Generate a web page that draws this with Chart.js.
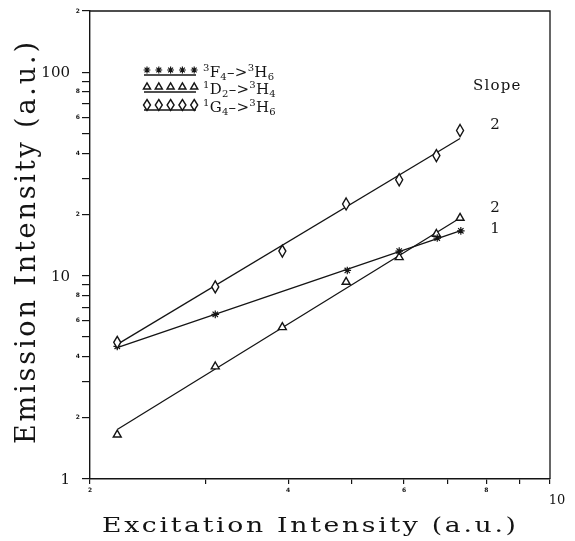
<!DOCTYPE html>
<html>
<head>
<meta charset="utf-8">
<script src="https://cdn.jsdelivr.net/npm/chart.js@4/dist/chart.umd.min.js"></script>
<style>
  html, body { margin: 0; padding: 0; background: #fff; }
  #wrap { width: 575px; height: 541px; }
</style>
</head>
<body>
<div id="wrap"><canvas id="c" width="575" height="541"></canvas></div>
<script>
// Measured points (excitation vs. emission, arbitrary units)
const excitation   = [2.2, 3.1, 3.92, 4.9, 5.9, 6.72, 7.3];
const starExcitation = [2.2, 3.1, 4.92, 5.9, 6.74, 7.32];
const emissionF4 = [4.49, 6.45, 10.6, 13.2, 15.3, 16.6];          // 3F4 -> 3H6
const emissionD2 = [1.65, 3.57, 5.57, 9.3, 12.3, 16.0, 19.2];     // 1D2 -> 3H4
const emissionG4 = [4.7, 8.8, 13.2, 22.5, 29.6, 38.9, 51.7];      // 1G4 -> 3H6

// Fitted straight lines (log-log), end points
const fitRange = [2.2, 7.3];
const fitF4 = [4.43, 16.6];
const fitD2 = [1.75, 19.2];
const fitG4 = [4.59, 47.2];

const seriesNames = ['³F₄–>³H₆', '¹D₂–>³H₄', '¹G₄–>³H₆'];
const slopeValues = ['1', '2', '2'];   // F4, D2, G4

const xTickValues = [2, 3, 4, 5, 6, 7, 8, 9, 10];
const yTickValues = [1, 2, 3, 4, 5, 6, 7, 8, 9, 10, 20, 30, 40, 50, 60, 70, 80, 90, 100, 200];
const yMajorTicks = [1, 10, 100];
const xEndLabel = '10';
const xTitle = 'Excitation Intensity (a.u.)';
const yTitle = 'Emission Intensity (a.u.)';

const ink = '#141414';
const serif = '"DejaVu Serif", "Liberation Serif", serif';

// tall open diamond, drawn as a path
function drawDiamond(ctx, x, y, w, h) {
  ctx.save();
  ctx.strokeStyle = ink; ctx.fillStyle = '#fff'; ctx.lineWidth = 1.4;
  ctx.beginPath();
  ctx.moveTo(x, y - h / 2); ctx.lineTo(x + w / 2, y);
  ctx.lineTo(x, y + h / 2); ctx.lineTo(x - w / 2, y); ctx.closePath();
  ctx.fill(); ctx.stroke();
  ctx.restore();
}

const pts = (xs, ys) => xs.map((x, i) => ({ x, y: ys[i] }));

const markerStyles = [
  { pointStyle: 'star', radius: 3.8, borderWidth: 1.2 },
  { pointStyle: 'triangle', radius: 4.6, borderWidth: 1.4 },
  { pointStyle: 'diamondTall', radius: 0, borderWidth: 1.4 }
];

function pointSet(label, data, m) {
  return {
    label, data, showLine: false,
    pointStyle: m.radius ? m.pointStyle : 'circle',
    pointRadius: m.radius, pointHoverRadius: m.radius,
    pointBorderWidth: m.borderWidth, borderColor: ink, backgroundColor: '#fff',
    pointBackgroundColor: '#fff', pointBorderColor: ink
  };
}
function fitSet(label, data) {
  return {
    label, data, showLine: true, pointRadius: 0, borderColor: ink,
    borderWidth: 1.3, fill: false, tension: 0
  };
}

// draws text starting at (x, y) over a given length; glyphs are widened by
// `stretch` and the rest of the length goes into letter spacing
function fitText(ctx, text, x, y, width, rotate, stretch) {
  ctx.save();
  ctx.translate(x, y);
  if (rotate) ctx.rotate(-Math.PI / 2);
  ctx.letterSpacing = '0px';
  const w = ctx.measureText(text).width * stretch;
  ctx.scale(stretch, 1);
  if (w < width) {
    ctx.letterSpacing = ((width - w) / stretch / (text.length - 1)) + 'px';
  } else {
    ctx.scale(width / w, 1);
  }
  ctx.textAlign = 'left';
  ctx.fillText(text, 0, 0);
  ctx.restore();
}

const supChars = { '¹': '1', '²': '2', '³': '3' };
const subChars = { '₂': '2', '₄': '4', '₆': '6' };
function drawFormula(ctx, text, x, y) {
  let cx = x;
  ctx.save();
  ctx.textAlign = 'left';
  ctx.textBaseline = 'alphabetic';
  for (const ch of text) {
    let s = ch, dy = 0, font = '15px ' + serif;
    if (supChars[ch]) { s = supChars[ch]; dy = -6.5; font = '10px ' + serif; }
    else if (subChars[ch]) { s = subChars[ch]; dy = 2.5; font = '10px ' + serif; }
    ctx.font = font;
    ctx.fillText(s, cx, y + dy);
    cx += ctx.measureText(s).width + 0.3;
  }
  ctx.restore();
}

const decorations = {
  id: 'decorations',
  afterDatasetsDraw(chart) {
    // tall diamonds for the 1G4 series at the positions the scales give
    const meta = chart.getDatasetMeta(2);
    meta.data.forEach(el => drawDiamond(chart.ctx, el.x, el.y, 7, 12));
  },
  afterDraw(chart) {
    const ctx = chart.ctx;
    const a = chart.chartArea;
    const xs = chart.scales.x, ys = chart.scales.y;
    ctx.save();
    ctx.strokeStyle = ink;
    ctx.fillStyle = ink;

    // frame: top and right edges
    ctx.lineWidth = 1.3;
    ctx.beginPath();
    ctx.moveTo(a.left, a.top); ctx.lineTo(a.right, a.top); ctx.lineTo(a.right, a.bottom);
    ctx.stroke();

    // decade labels on the value axis
    ctx.font = '15px ' + serif;
    ctx.textAlign = 'right';
    ctx.textBaseline = 'middle';
    yMajorTicks.forEach(v => ctx.fillText(String(v), 70, ys.getPixelForValue(v) + 1));

    // end label of the excitation axis
    ctx.textAlign = 'center';
    ctx.font = '13px ' + serif;
    ctx.fillText(xEndLabel, xs.getPixelForValue(10) + 7, a.bottom + 22);

    // axis titles
    ctx.textBaseline = 'alphabetic';
    ctx.font = '21px ' + serif;
    fitText(ctx, xTitle, 102, 532, 414, false, 1.27);
    ctx.font = '27px ' + serif;
    fitText(ctx, yTitle, 35, 444, 402, true, 1.0);

    // slope annotations
    ctx.font = '15px ' + serif;
    ctx.textAlign = 'left';
    ctx.textBaseline = 'middle';
    ctx.letterSpacing = '1.2px';
    ctx.fillText('Slope', 473, 86);
    ctx.letterSpacing = '0px';
    ctx.textAlign = 'center';
    const xEnd = xs.getPixelForValue(fitRange[1]) + 35;
    const ends = [fitF4[1], fitD2[1], fitG4[1]];
    const lift = [-2, -10, -13];
    ends.forEach((v, i) => ctx.fillText(slopeValues[i], xEnd, ys.getPixelForValue(v) + lift[i]));

    // legend
    const rows = [70, 87, 105];
    const lineOff = [5, 5, 5];
    const textBase = [77, 94, 112];
    rows.forEach((ry, i) => {
      const m = markerStyles[i];
      ctx.lineWidth = 1.3;
      ctx.strokeStyle = ink;
      ctx.beginPath();
      ctx.moveTo(144, ry + lineOff[i]); ctx.lineTo(196, ry + lineOff[i]);
      ctx.stroke();
      for (let k = 0; k < 5; k++) {
        const px = 147 + k * 11.8;
        if (m.pointStyle === 'diamondTall') {
          drawDiamond(ctx, px, ry, 7, 11);
        } else {
          ctx.fillStyle = '#fff';
          ctx.strokeStyle = ink;
          ctx.lineWidth = m.borderWidth;
          Chart.helpers.drawPoint(ctx, {
            pointStyle: m.pointStyle, radius: m.radius * 0.9, rotation: 0, borderWidth: m.borderWidth
          }, px, ry);
        }
      }
      ctx.fillStyle = ink;
      drawFormula(ctx, seriesNames[i], 203, textBase[i]);
    });
    ctx.restore();
  }
};

new Chart(document.getElementById('c'), {
  type: 'scatter',
  data: {
    datasets: [
      pointSet(seriesNames[0], pts(starExcitation, emissionF4), markerStyles[0]),
      pointSet(seriesNames[1], pts(excitation, emissionD2), markerStyles[1]),
      pointSet(seriesNames[2], pts(excitation, emissionG4), markerStyles[2]),
      fitSet('fit ' + seriesNames[0], pts(fitRange, fitF4)),
      fitSet('fit ' + seriesNames[1], pts(fitRange, fitD2)),
      fitSet('fit ' + seriesNames[2], pts(fitRange, fitG4))
    ]
  },
  options: {
    responsive: false,
    animation: false,
    devicePixelRatio: 1,
    layout: { padding: { left: 0, right: 25, top: 11, bottom: 0 } },
    plugins: { legend: { display: false }, tooltip: { enabled: false } },
    scales: {
      x: {
        type: 'logarithmic', min: 2, max: 10, position: 'bottom',
        afterBuildTicks: s => { s.ticks = xTickValues.map(v => ({ value: v })); },
        afterFit: s => { s.height = 62; },
        grid: { drawOnChartArea: false, drawTicks: true, tickLength: 5, color: ink, lineWidth: 1.2 },
        border: { display: true, color: ink, width: 1.4 },
        ticks: {
          autoSkip: false, maxRotation: 0, minRotation: 0, padding: 3, color: ink,
          font: { family: 'DejaVu Sans', size: 6, weight: 'bold' },
          callback: v => ([2, 4, 6, 8].includes(v) ? String(v) : '')
        }
      },
      y: {
        type: 'logarithmic', min: 1, max: 200, position: 'left',
        afterBuildTicks: s => { s.ticks = yTickValues.map(v => ({ value: v })); },
        afterFit: s => { s.width = 90; },
        grid: { drawOnChartArea: false, drawTicks: true, tickLength: 8, color: ink, lineWidth: 1.2 },
        border: { display: true, color: ink, width: 1.4 },
        ticks: {
          autoSkip: false, padding: 2, color: ink,
          font: { family: 'DejaVu Sans', size: 6, weight: 'bold' },
          callback: v => {
            if (v === 200) return '2';
            const d = v < 10 ? v : (v < 100 ? v / 10 : 0);
            return [2, 4, 6, 8].includes(d) ? String(d) : '';
          }
        }
      }
    }
  },
  plugins: [decorations]
});
</script>
</body>
</html>
